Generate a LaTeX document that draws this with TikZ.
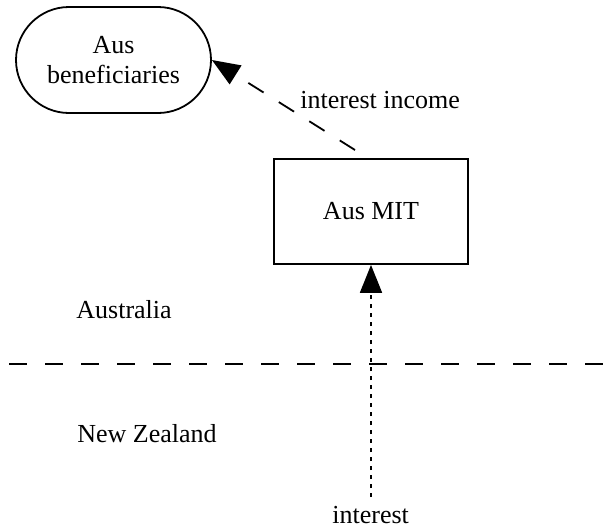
\documentclass[tikz,border=0pt]{standalone}
\usepackage{fontspec}
\setmainfont{Liberation Serif}
\usetikzlibrary{arrows.meta}
\begin{document}
\begin{tikzpicture}[x=0.5pt,y=-0.5pt,
  every node/.style={font=\fontsize{13}{15}\selectfont},
  stadium/.style={draw, line width=0.9pt, rounded corners=26.5pt, minimum width=97.5pt, minimum height=53pt, align=center, inner sep=0pt},
  boxnode/.style={draw, line width=0.9pt, minimum width=97pt, minimum height=52.5pt, inner sep=0pt},
  lbl/.style={anchor=base west, inner sep=0pt},
  tip/.style={-{Triangle[length=14pt,width=11pt]}},
  dashline/.style={line width=0.9pt, dash pattern=on 9pt off 9pt},
  dotline/.style={line width=0.9pt, dash pattern=on 2.2pt off 2.3pt}]
\useasboundingbox (0,0) rectangle (614,526);
\node[stadium] (ben) at (113.5,60) {Aus\\beneficiaries};
\node[boxnode] (mit) at (371,211.5) {Aus MIT};
\coordinate (s1) at (355,150);
\coordinate (s2) at (371,497);
\coordinate (w) at (9.3,364);
\coordinate (e) at (614,364);
\draw[dashline, tip] (s1) -- (ben.east);
\draw[dotline, tip] (s2) -- (mit.south);
\draw[dashline] (w) -- (e);
\node[lbl] (ii) at (300,108) {interest income};
\node[lbl] (int) at (332,523) {interest};
\node[lbl] (au) at (76,318) {Australia};
\node[lbl] (nz) at (77,442) {New Zealand};
\end{tikzpicture}
\end{document}
